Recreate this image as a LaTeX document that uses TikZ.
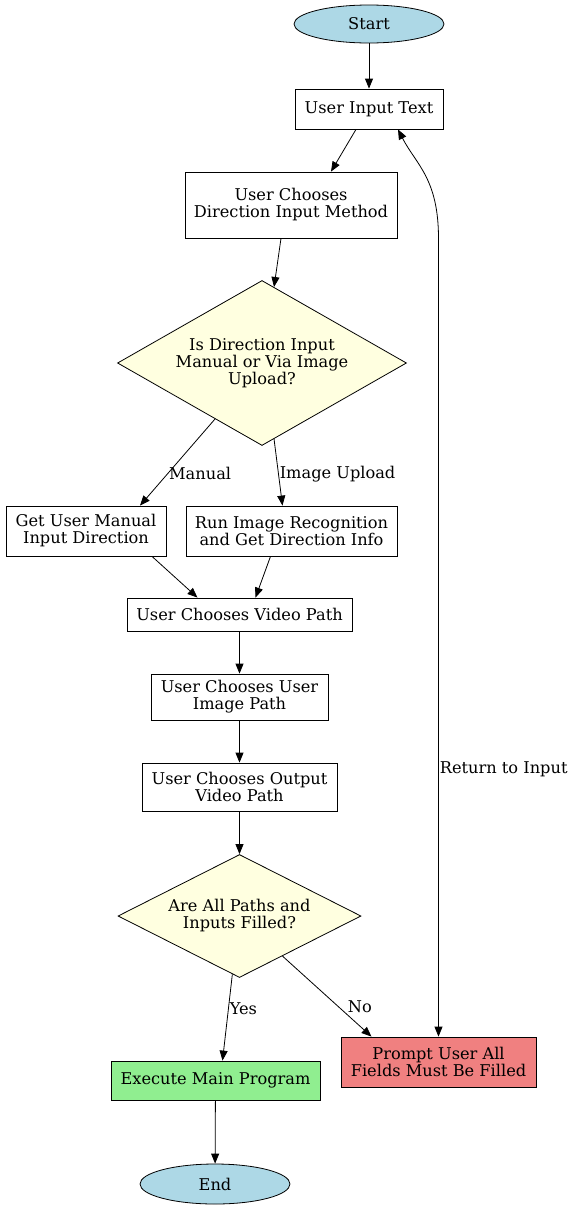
\documentclass[tikz,border=0pt]{standalone}
\usepackage{fontspec}
\setmainfont{DejaVu Serif}
\usetikzlibrary{shapes.geometric,arrows.meta}
\definecolor{termblue}{HTML}{ADD8E6}
\definecolor{choiceyellow}{HTML}{FFFFE0}
\definecolor{runggreen}{HTML}{90EE90}
\definecolor{warnred}{HTML}{F08080}
\begin{document}
\begin{tikzpicture}[x=1pt,y=-1pt,line width=0.8pt,
  >={Triangle[length=10pt,width=8pt]},
  main node/.style={rectangle,draw,font=\fontsize{16.2}{17}\selectfont,align=center,inner sep=0pt},
  term node/.style={ellipse,draw,fill=termblue,font=\fontsize{16.2}{17}\selectfont,minimum width=150pt,minimum height=38pt,inner sep=0pt},
  choice node/.style={diamond,draw,fill=choiceyellow,font=\fontsize{16.2}{17}\selectfont,align=center,inner sep=0pt}]

  \useasboundingbox (0,0) rectangle (570,1210);

  \node[term node] (start) at (369,24) {Start};
  \node[main node,minimum width=148pt,minimum height=40pt] (input) at (369,109) {User Input Text};
  \node[main node,minimum width=212pt,minimum height=66pt] (method) at (291,205) {User Chooses\\Direction Input Method};
  \node[choice node,minimum width=289pt,minimum height=165pt,aspect=1.75] (askdir) at (262,363) {Is Direction Input\\Manual or Via Image\\Upload?};
  \node[main node,minimum width=160pt,minimum height=50pt] (manual) at (86,531) {Get User Manual\\Input Direction};
  \node[main node,minimum width=211pt,minimum height=50pt] (recog) at (291.5,531) {Run Image Recognition\\and Get Direction Info};
  \node[main node,minimum width=225pt,minimum height=33pt] (video) at (239.5,614.5) {User Chooses Video Path};
  \node[main node,minimum width=177pt,minimum height=46pt] (image) at (239.5,697) {User Chooses User\\Image Path};
  \node[main node,minimum width=195pt,minimum height=48pt] (output) at (239.5,787) {User Chooses Output\\Video Path};
  \node[choice node,minimum width=243pt,minimum height=123pt,aspect=2] (askall) at (239.5,916) {Are All Paths and\\Inputs Filled?};
  \node[main node,fill=runggreen,minimum width=209pt,minimum height=39pt] (run) at (215.5,1080.5) {Execute Main Program};
  \node[main node,fill=warnred,minimum width=195pt,minimum height=50pt] (prompt) at (438.5,1062) {Prompt User All\\Fields Must Be Filled};
  \node[term node,minimum height=40pt] (end) at (215,1184) {End};

  \path[->,every node/.style={font=\fontsize{16.2}{17}\selectfont,inner sep=1pt}]
   (start) edge (input)
   ([xshift=-13pt]input.south) edge ([xshift=40pt]method.north)
   ([xshift=-10pt]method.south) edge (askdir.81)
   (askdir.230) edge node[pos=0.63,right]{Manual} ([xshift=54pt]manual.north)
   (askdir.279) edge node[pos=0.52,right]{Image Upload} ([xshift=-9pt]recog.north)
   ([xshift=66pt]manual.south) edge ([xshift=-42pt]video.north)
   ([xshift=-21pt]recog.south) edge ([xshift=16pt]video.north)
   (video) edge (image)
   (image) edge (output)
   (output) edge (askall)
   (askall.263) edge node[pos=0.4,right]{Yes} ([xshift=7pt]run.north)
   (askall.317) edge node[pos=0.72,above right]{No} ([xshift=-67pt]prompt.north)
   (run) edge (end);

  \draw[<->] ([xshift=29pt]input.south) .. controls +(18,35) and +(0,-60) .. (prompt.north |- method.south)
    -- node[pos=0.665,right,font=\fontsize{16.2}{17}\selectfont,inner sep=1pt]{Return to Input} (prompt.north);
\end{tikzpicture}
\end{document}
